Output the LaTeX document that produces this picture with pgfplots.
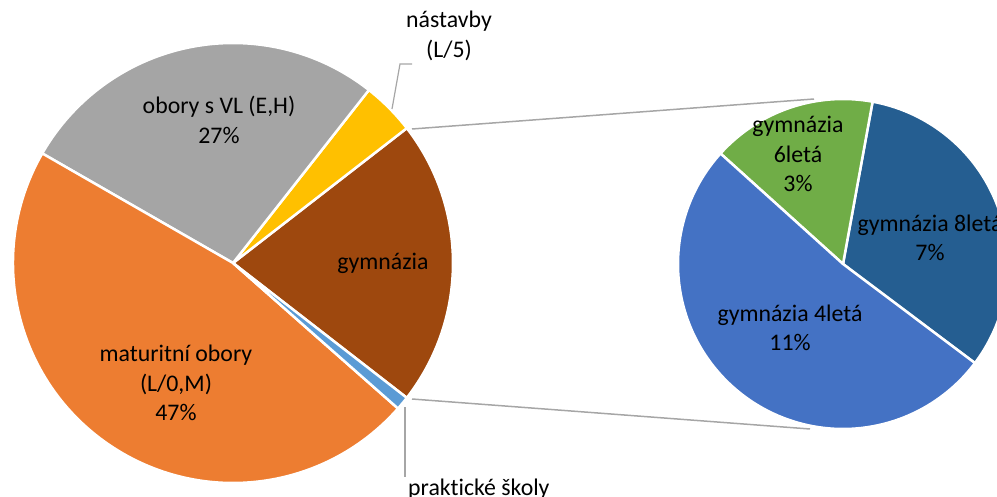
\documentclass[border=0pt]{standalone}
\usepackage{pgfplots}
\pgfplotsset{compat=1.18}
\usepackage{fontspec}
\setmainfont{Carlito}[Ligatures=NoCommon]
\definecolor{cOrange}{HTML}{ED7D31}
\definecolor{cGray}{HTML}{A5A5A5}
\definecolor{cYellow}{HTML}{FFC000}
\definecolor{cBrown}{HTML}{9E480E}
\definecolor{cLBlue}{HTML}{5B9BD5}
\definecolor{cBlue}{HTML}{4472C4}
\definecolor{cGreen}{HTML}{70AD47}
\definecolor{cDBlue}{HTML}{255E91}
\definecolor{cLine}{HTML}{A6A6A6}
\tikzset{lbl/.style={font=\fontsize{23.8}{29.5}\selectfont, align=center, inner sep=0pt, text=black}}
% data (percent of total)
\def\vGym{21.0}\def\vNas{3.9}\def\vVL{27.3}\def\vMat{46.8}\def\vPra{1.0}
\def\vEight{6.8}\def\vSix{3.4}\def\vFour{10.8}
\newcommand\wedgeat[6]{% cx cy r start end color
  \fill[#6, draw=white, line width=2.5pt, line join=round] (axis cs:#1,#2) -- +(#4:#3pt) arc[start angle=#4, end angle=#5, radius=#3pt] -- cycle;}
\begin{document}
\begin{tikzpicture}
% angles of the first pie
\pgfmathsetmacro\aA{-\vGym*3.6/2}
\pgfmathsetmacro\aB{\aA+\vGym*3.6}
\pgfmathsetmacro\aC{\aB+\vNas*3.6}
\pgfmathsetmacro\aD{\aC+\vVL*3.6}
\pgfmathsetmacro\aE{\aD+\vMat*3.6}
\pgfmathsetmacro\aF{\aE+\vPra*3.6}
% angles of the second pie
\pgfmathsetmacro\tot{\vEight+\vSix+\vFour}
\pgfmathsetmacro\bA{-36.9}
\pgfmathsetmacro\bB{\bA+\vEight/\tot*360}
\pgfmathsetmacro\bC{\bB+\vSix/\tot*360}
\pgfmathsetmacro\bD{\bC+\vFour/\tot*360}
\begin{axis}[
  width=997pt, height=496pt, scale only axis,
  xmin=0, xmax=997, ymin=0, ymax=496,
  hide axis, clip=false]
\addplot[draw=none] coordinates {(0,0) (997,496)};
\wedgeat{233}{233}{220}{\aA}{\aB}{cBrown}
\wedgeat{233}{233}{220}{\aB}{\aC}{cYellow}
\wedgeat{233}{233}{220}{\aC}{\aD}{cGray}
\wedgeat{233}{233}{220}{\aD}{\aE}{cOrange}
\wedgeat{233}{233}{220}{\aE}{\aF}{cLBlue}
\wedgeat{843}{232}{165}{\bA}{\bB}{cDBlue}
\wedgeat{843}{232}{165}{\bB}{\bC}{cGreen}
\wedgeat{843}{232}{165}{\bC}{\bD}{cBlue}
% connector lines
\draw[cLine, line width=1.5pt] (axis cs:412,367) -- (axis cs:814,397);
\draw[cLine, line width=1.5pt] (axis cs:412,97) -- (axis cs:810,67);
\draw[cLine, line width=1.2pt] (axis cs:392,387) -- (axis cs:400,432) -- (axis cs:412,432);
\draw[cLine, line width=1.2pt] (axis cs:405,89) -- (axis cs:405,19);
% labels
\node[lbl] at (axis cs:219,376) {obory s VL (E,H)\\27\%};
\node[lbl] at (axis cs:176,113) {maturitní obory\\(L/0,M)\\47\%};
\node[lbl] at (axis cs:383,233) {gymnázia};
\node[lbl] at (axis cs:449,460) {nástavby\\(L/5)};
\node[lbl] at (axis cs:798,342) {gymnázia\\6letá\\3\%};
\node[lbl] at (axis cs:930,258) {gymnázia 8letá\\7\%};
\node[lbl] at (axis cs:790,168) {gymnázia 4letá\\11\%};
\node[lbl, anchor=base west] at (axis cs:408,1) {praktické školy};
\coordinate (BL) at (axis cs:0,0);
\coordinate (TR) at (axis cs:997,496);
\end{axis}
\pgfresetboundingbox
\path[use as bounding box] (BL) rectangle (TR);
\end{tikzpicture}
\end{document}
